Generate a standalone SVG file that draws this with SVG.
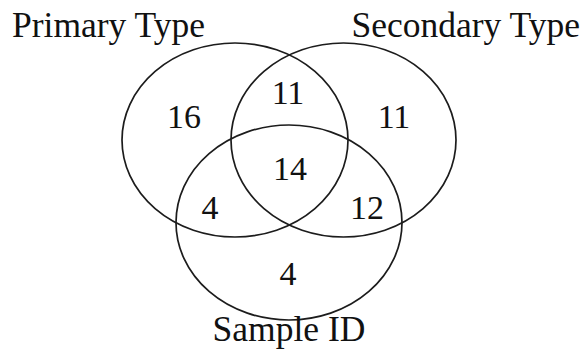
<svg xmlns="http://www.w3.org/2000/svg" width="583" height="350" viewBox="0 0 583 350">
  <style>
    .set { fill: none; stroke: #1c1c1c; stroke-width: 1.7; }
    text { font-family: "Liberation Serif", "Times New Roman", serif; font-size: 34px; fill: #111; }
    .label { font-size: 35.5px; }
    .num { text-anchor: middle; }
  </style>
  <rect width="583" height="350" fill="#ffffff"/>

  <!-- three overlapping sets -->
  <g id="primary-type">
    <ellipse class="set" cx="235" cy="140" rx="113" ry="97"/>
    <text class="label" x="12" y="37">Primary Type</text>
  </g>
  <g id="secondary-type">
    <ellipse class="set" cx="343.5" cy="140" rx="112.5" ry="97"/>
    <text class="label" x="580" y="37" text-anchor="end">Secondary Type</text>
  </g>
  <g id="sample-id">
    <ellipse class="set" cx="289" cy="222.5" rx="113" ry="97.5"/>
    <text class="label" x="289" y="341" text-anchor="middle">Sample ID</text>
  </g>

  <!-- region counts -->
  <g id="counts">
    <text class="num" x="184" y="128">16</text>
    <text class="num" x="288" y="104">11</text>
    <text class="num" x="394" y="128">11</text>
    <text class="num" x="290" y="180">14</text>
    <text class="num" x="210" y="219">4</text>
    <text class="num" x="367" y="219">12</text>
    <text class="num" x="288" y="285">4</text>
  </g>
</svg>
